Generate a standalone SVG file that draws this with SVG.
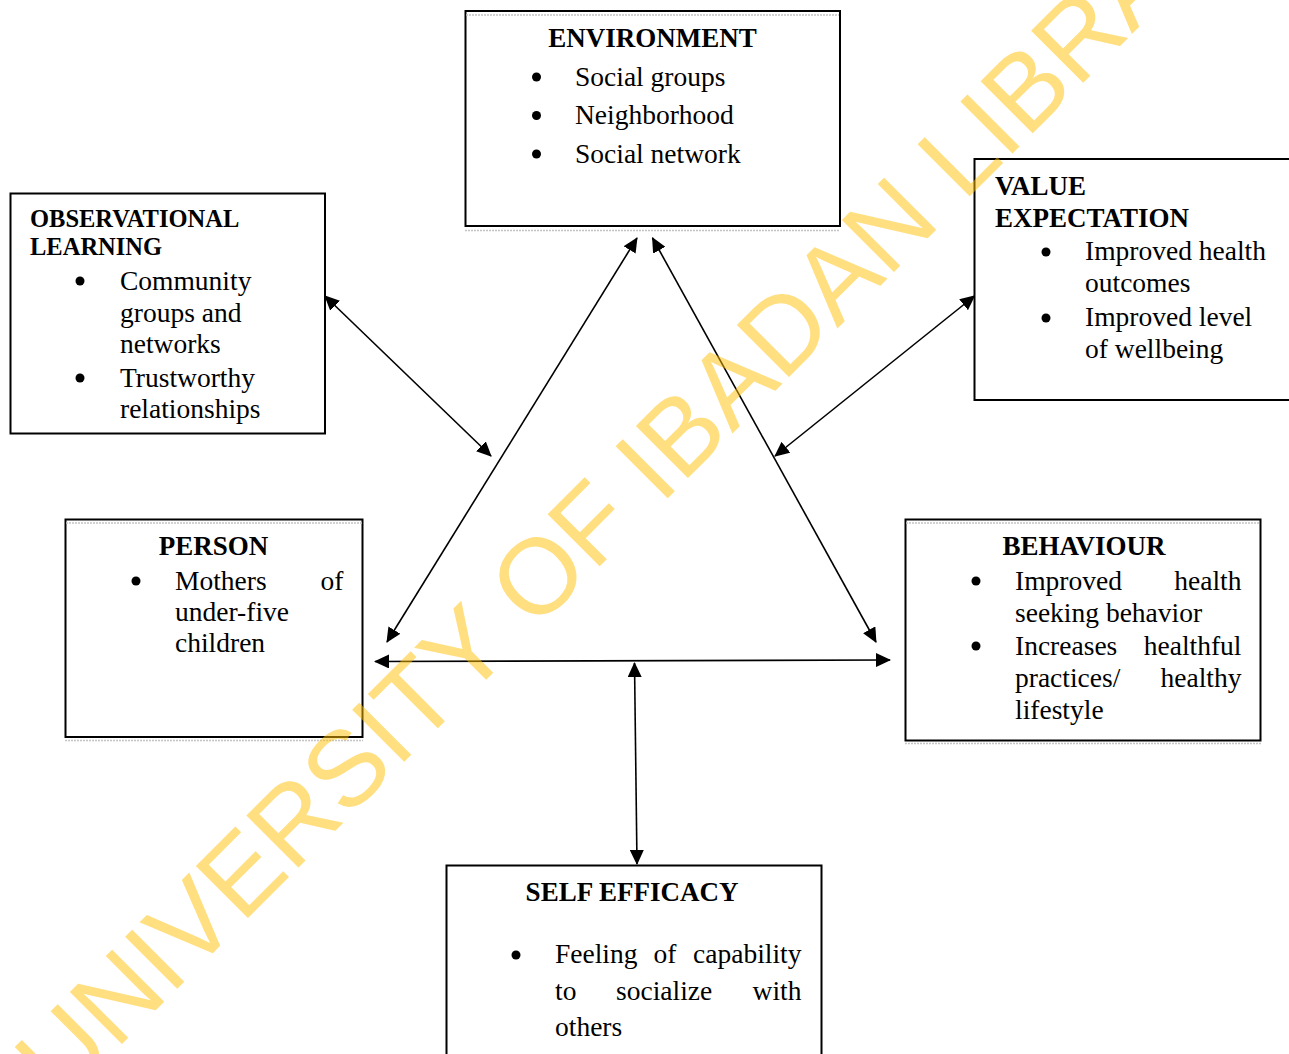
<svg xmlns="http://www.w3.org/2000/svg" width="1289" height="1054" viewBox="0 0 1289 1054">
  <style>
    .box { fill: #ffffff; stroke: #000000; stroke-width: 2; }
    .ghost { stroke: #c4c4c4; stroke-width: 1.5; stroke-dasharray: 2 1; fill: none; }
    .h { font-family: "Liberation Serif", "Times New Roman", serif; font-weight: bold; font-size: 27px; fill: #000; }
    .hs { font-family: "Liberation Serif", "Times New Roman", serif; font-weight: bold; font-size: 24.5px; fill: #000; }
    .t { font-family: "Liberation Serif", "Times New Roman", serif; font-size: 27.5px; fill: #000; }
    .b { fill: #000; }
    .conn { stroke: #000; stroke-width: 1.6; fill: none; marker-start: url(#ah); marker-end: url(#ah); }
    .wm { font-family: "Liberation Sans", Arial, sans-serif; font-size: 107px; fill: #FFC000; fill-opacity: 0.5; }
  </style>
  <defs>
    <marker id="ah" viewBox="0 0 15 14" refX="14" refY="7" markerWidth="15" markerHeight="14" markerUnits="userSpaceOnUse" orient="auto-start-reverse">
      <path d="M0,0 L15,7 L0,14 z" fill="#000"/>
    </marker>
  </defs>
  <rect width="1289" height="1054" fill="#ffffff"/>

  <g id="environment">
    <rect class="box" x="465.5" y="11" width="374.5" height="215"/>
    <line class="ghost" x1="466" y1="15" x2="839" y2="15"/>
    <line class="ghost" x1="465" y1="230.5" x2="840" y2="230.5"/>
    <text class="h" x="652.5" y="47" text-anchor="middle">ENVIRONMENT</text>
    <circle class="b" cx="536.5" cy="77" r="4.5"/>
    <circle class="b" cx="536.5" cy="115.5" r="4.5"/>
    <circle class="b" cx="536.5" cy="154" r="4.5"/>
    <text class="t" x="575" y="85.5">Social groups</text>
    <text class="t" x="575" y="124">Neighborhood</text>
    <text class="t" x="575" y="162.5">Social network</text>
  </g>

  <g id="observational-learning">
    <rect class="box" x="10.5" y="193.5" width="314.5" height="240"/>
    <text class="hs" x="30" y="227">OBSERVATIONAL</text>
    <text class="hs" x="30" y="255">LEARNING</text>
    <circle class="b" cx="80" cy="281" r="4.5"/>
    <circle class="b" cx="80" cy="378" r="4.5"/>
    <text class="t" x="120" y="290">Community</text>
    <text class="t" x="120" y="321.5">groups and</text>
    <text class="t" x="120" y="352.5">networks</text>
    <text class="t" x="120" y="386.5">Trustworthy</text>
    <text class="t" x="120" y="418">relationships</text>
  </g>

  <g id="value-expectation">
    <rect class="box" x="974.5" y="159" width="330" height="241"/>
    <text class="h" x="995" y="195">VALUE</text>
    <text class="h" x="995" y="226.5">EXPECTATION</text>
    <circle class="b" cx="1046" cy="252" r="4.5"/>
    <circle class="b" cx="1046" cy="318" r="4.5"/>
    <text class="t" x="1085" y="260">Improved health</text>
    <text class="t" x="1085" y="292">outcomes</text>
    <text class="t" x="1085" y="326">Improved level</text>
    <text class="t" x="1085" y="357.5">of wellbeing</text>
  </g>

  <g id="person">
    <rect class="box" x="65.5" y="519.5" width="297" height="217.5"/>
    <line class="ghost" x1="66" y1="523" x2="362" y2="523"/>
    <line class="ghost" x1="65" y1="740.5" x2="363" y2="740.5"/>
    <text class="h" x="213.5" y="554.5" text-anchor="middle">PERSON</text>
    <circle class="b" cx="136" cy="581" r="4.5"/>
    <text class="t" y="590"><tspan x="175">Mothers</tspan><tspan x="343.5" text-anchor="end">of</tspan></text>
    <text class="t" x="175" y="620.5">under-five</text>
    <text class="t" x="175" y="652">children</text>
  </g>

  <g id="behaviour">
    <rect class="box" x="905.5" y="519.5" width="355" height="221"/>
    <line class="ghost" x1="906" y1="523" x2="1260" y2="523"/>
    <line class="ghost" x1="905" y1="743.5" x2="1261" y2="743.5"/>
    <text class="h" x="1084" y="554.5" text-anchor="middle">BEHAVIOUR</text>
    <circle class="b" cx="976" cy="581" r="4.5"/>
    <circle class="b" cx="976" cy="646" r="4.5"/>
    <text class="t" y="590"><tspan x="1015">Improved</tspan><tspan x="1241.5" text-anchor="end">health</tspan></text>
    <text class="t" x="1015" y="621.5">seeking behavior</text>
    <text class="t" y="654.5"><tspan x="1015">Increases</tspan><tspan x="1241.5" text-anchor="end">healthful</tspan></text>
    <text class="t" y="686.5"><tspan x="1015">practices/</tspan><tspan x="1241.5" text-anchor="end">healthy</tspan></text>
    <text class="t" x="1015" y="718.5">lifestyle</text>
  </g>

  <g id="self-efficacy">
    <rect class="box" x="446.5" y="865.5" width="375" height="200"/>
    <text class="h" x="632" y="901" text-anchor="middle">SELF EFFICACY</text>
    <circle class="b" cx="516" cy="955" r="4.5"/>
    <text class="t" y="962.5"><tspan x="555">Feeling</tspan><tspan x="653.5">of</tspan><tspan x="801.5" text-anchor="end">capability</tspan></text>
    <text class="t" y="999.5"><tspan x="555">to</tspan><tspan x="616">socialize</tspan><tspan x="801.5" text-anchor="end">with</tspan></text>
    <text class="t" x="555" y="1036">others</text>
  </g>

  <g id="connectors">
    <line class="conn" x1="637" y1="238" x2="387" y2="642"/>
    <line class="conn" x1="652.5" y1="238" x2="876" y2="642"/>
    <line class="conn" x1="325" y1="296" x2="491" y2="456"/>
    <line class="conn" x1="974.5" y1="296" x2="775" y2="456"/>
    <line class="conn" x1="375" y1="661.5" x2="890" y2="660"/>
    <line class="conn" x1="634.5" y1="663" x2="637" y2="864"/>
  </g>

  <g id="watermark">
    <text class="wm" transform="translate(61,1105) rotate(-45)">UNIVERSITY OF IBADAN LIBRARY</text>
  </g>
</svg>
